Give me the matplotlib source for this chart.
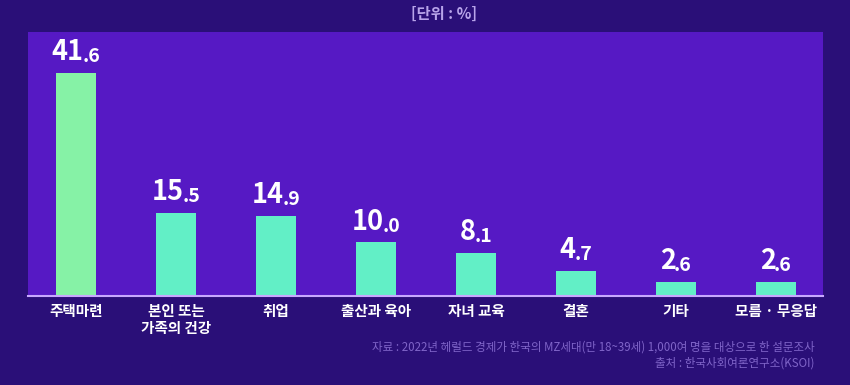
import matplotlib
matplotlib.use("Agg")
import matplotlib.pyplot as plt

plt.rcParams['font.family'] = ['Noto Sans CJK KR', 'DejaVu Sans']

# 데이터
categories = ['주택마련', '본인 또는\n가족의 건강', '취업', '출산과 육아', '자녀 교육', '결혼', '기타', '모름 · 무응답']
values = [41.6, 15.5, 14.9, 10.0, 8.1, 4.7, 2.6, 2.6]
bar_colors = ['#86f2a6', '#62efc6', '#62efc6', '#62efc6', '#62efc6', '#62efc6', '#62efc6', '#62efc6']

unit_text = '[단위 : %]'
source_lines = ['자료 : 2022년 헤럴드 경제가 한국의 MZ세대(만 18~39세) 1,000여 명을 대상으로 한 설문조사',
                '출처 : 한국사회여론연구소(KSOI)']

fig = plt.figure(figsize=(8.5, 3.85), dpi=100)
fig.patch.set_facecolor('#2a0f78')

ax = fig.add_axes([0.033, 0.231, 0.935, 0.686])
ax.set_facecolor('#5619c4')

x = range(len(values))
ax.bar(x, values, width=0.4, color=bar_colors, zorder=2)

ax.set_xlim(-0.48, 7.47)
ax.set_ylim(0, 49.3)
for s in ['top', 'right', 'left']:
    ax.spines[s].set_visible(False)
ax.spines['bottom'].set_color('#c8a8ff')
ax.spines['bottom'].set_linewidth(1.5)
ax.set_yticks([])
ax.set_xticks(list(x))
ax.set_xticklabels(categories, color='white', fontsize=10.5, fontweight='bold', linespacing=1.1)
ax.tick_params(axis='x', length=0, pad=5)

# 값 라벨 (정수부 크게, 소수부 작게)
fig.canvas.draw()
renderer = fig.canvas.get_renderer()
inv = ax.transData.inverted()
gap = 1.5
for i, v in enumerate(values):
    s = '{:.1f}'.format(v)
    big, small = s.split('.')
    t1 = ax.text(i, v + 1.3, big, color='white', fontsize=19.5, fontweight='bold',
                 ha='right', va='bottom', zorder=3)
    t2 = ax.text(i, v + 1.3, '.' + small, color='white', fontsize=14, fontweight='bold',
                 ha='left', va='bottom', zorder=3)
    w1 = t1.get_window_extent(renderer).width
    w2 = t2.get_window_extent(renderer).width - gap
    shift = (w1 - w2) / 2.0
    px = ax.transData.transform((i, 0))[0] + shift
    t1.set_x(inv.transform((px, 0))[0])
    t2.set_x(inv.transform((px - gap, 0))[0])

fig.text(0.522, 0.963, unit_text, color='#b8a4ea', fontsize=11, fontweight='bold', ha='center', va='center')
fig.text(0.958, 0.098, source_lines[0], color='#7f64c8', fontsize=8.3, ha='right', va='center')
fig.text(0.958, 0.058, source_lines[1], color='#7f64c8', fontsize=8.3, ha='right', va='center')

fig.savefig('out.png', dpi=100, facecolor=fig.get_facecolor())
